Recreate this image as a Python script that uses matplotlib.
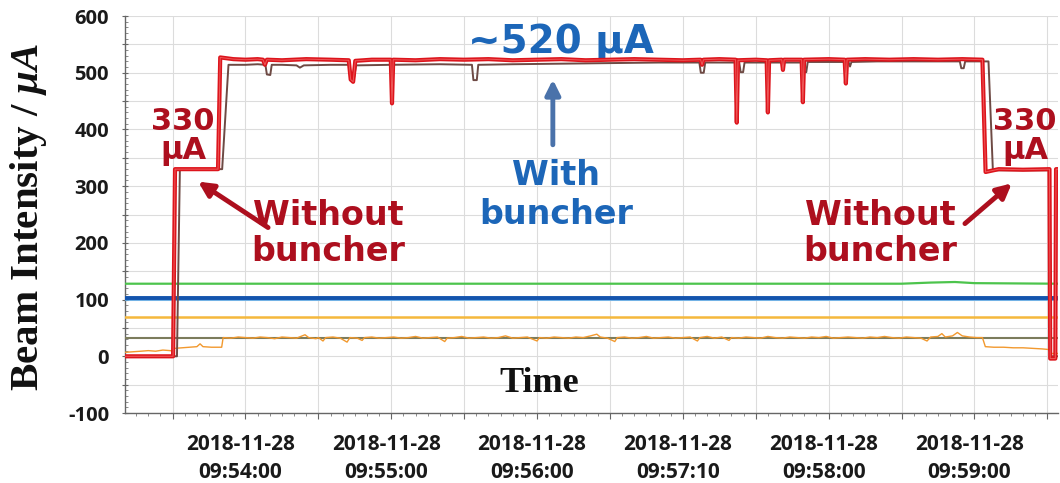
import numpy as np
import matplotlib.pyplot as plt
from matplotlib.ticker import MultipleLocator, FixedLocator
from matplotlib.transforms import ScaledTranslation

plt.rcParams['mathtext.fontset'] = 'custom'
plt.rcParams['mathtext.it'] = 'Liberation Serif:italic:bold'
plt.rcParams['mathtext.rm'] = 'Liberation Serif:bold'

# time axis in seconds, 0 = 09:54:00
tick_pos = [-30, 0, 30, 60, 90, 120, 150, 180, 210, 240, 270, 300, 330]
tick_text = ['', '2018-11-28\n09:54:00', '', '2018-11-28\n09:55:00', '',
             '2018-11-28\n09:56:00', '', '2018-11-28\n09:57:10', '',
             '2018-11-28\n09:58:00', '', '2018-11-28\n09:59:00', '']

# beam current with buncher (red)
red_t = [-49.6, -29.8, -29.0, -11.3, -10.4, -5, 0, 5, 7.2, 8.0, 8.8, 15, 25, 35,
         42.5, 43.3, 44.3, 45.2, 52, 59.8, 60.3, 60.8, 70, 80, 90, 100, 110, 120,
         130, 140, 150, 160, 170, 180, 187.3, 187.9, 188.5, 195, 201.7, 202.2,
         202.7, 210, 214.5, 215.0, 215.5, 220.7, 221.2, 221.7, 228.9, 229.4,
         229.9, 240, 246.6, 247.1, 247.6, 255, 265, 275, 285, 295, 303.3, 304.6,
         310, 320, 330.9, 331.2, 333.3, 333.6, 336]
red_v = [0, 0, 330, 330, 527, 524, 523, 524, 523, 514, 523, 522, 524, 523,
         522, 488, 484, 521, 523, 523, 446, 523, 522, 524, 523, 524, 522, 523,
         524, 522, 523, 524, 523, 522, 523, 514, 523, 524, 523, 412,
         522, 523, 522, 430, 522, 523, 505, 523, 523, 448,
         523, 524, 523, 481, 523, 524, 523, 524, 523, 524, 523, 325,
         330, 329, 330, -4, -4, 330, 330]

# previous run (dark trace)
gray_t = [-49.6, -28.2, -27.0, -9.6, -7.0, 0, 5, 8.2, 8.8, 10.2, 10.8, 15, 21,
          22.4, 24, 35, 42.8, 43.5, 44.6, 45.5, 60, 80, 93.2, 93.8, 95.2, 95.8,
          110, 130, 150, 170, 186.8, 187.4, 188.6, 189.2, 195, 203.2, 203.8,
          204.8, 205.4, 215, 229.2, 229.8, 230.8, 231.4, 240, 248.2, 248.8,
          249.4, 260, 280, 294.0, 294.6, 295.6, 296.2, 305.8, 307.6, 320, 330.9,
          331.5, 336]
gray_v = [0, 0, 330, 330, 514, 514, 515, 514, 497, 496, 514, 514, 513,
          509, 513, 514, 514, 490, 489, 513, 514, 515, 514, 487, 487, 514,
          515, 516, 517, 518, 518, 500, 500, 518, 518, 518, 501,
          501, 518, 518, 518, 501, 501, 519, 519, 519, 511,
          519, 520, 520, 520, 508, 508, 520, 520, 328, 328, 328,
          0, 0]

# low-level channels
orange_t = [-49.6, -46, -43, -40, -37, -34, -31, -29.8, -29.2, -26, -23, -20,
            -18.7, -17.5, -14, -11, -9.8, -9.2, -6, -3, 0, 3, 6, 9, 12, 15, 18,
            21, 24.5, 26, 29, 30, 31.9, 33, 36, 39, 41.8, 43, 46, 48, 49, 52, 55,
            58, 61, 64, 67, 70, 73, 76, 79, 82, 83, 86, 89, 92, 95, 98, 101, 104,
            107, 110, 113, 116, 120, 121, 124, 127, 130, 133, 136, 139, 142,
            144.6, 146, 149, 152, 153, 156, 159, 162, 165, 168, 171, 174, 177,
            180, 183, 186, 187, 190, 193, 196, 199, 200, 203, 206, 209, 212, 215,
            218, 221, 224, 227, 230, 233, 236, 239, 242, 245, 248, 251, 254, 257,
            260, 263, 266, 269, 272, 275, 278, 280.5, 282, 285, 286.6, 288, 291,
            293, 295, 298, 301, 303.3, 304.5, 308, 312, 316, 320, 324, 328,
            330.5, 331.5, 334.4]
orange_v = [7, 8, 9, 10, 9, 11, 10, 9, 14, 15, 16, 17,
            22, 17, 16, 16, 16, 33, 32, 34, 33, 32, 34, 33, 31, 34, 33,
            32, 38, 33, 31, 33, 27, 33, 34, 32, 25, 33, 32, 28, 33, 34, 32,
            33, 34, 32, 33, 35, 32, 33, 34, 26, 32, 33, 35, 32, 33, 34, 32, 33,
            36, 32, 33, 34, 27, 33, 32, 34, 33, 32, 34, 33, 36,
            39, 34, 32, 26, 33, 34, 32, 33, 35, 32, 33, 34, 32,
            33, 34, 27, 33, 35, 32, 34, 28, 33, 32, 34, 33, 32, 35,
            33, 32, 34, 33, 32, 34, 33, 35, 32, 33, 34, 33, 32, 34,
            33, 35, 33, 32, 34, 33, 32, 27, 34, 35, 40, 34, 36,
            42, 36, 34, 33, 33, 17, 16, 16, 15, 15, 14, 13,
            12, 5, 5]
green_t = [-49.6, 270, 282, 292, 300, 334.4]
green_v = [128, 128, 130, 131, 129, 128]
blue_level = 103
blue_low = 100.5
yellow_level = 70
olive_level = 32.5

fig = plt.figure(figsize=(10.6, 4.83), dpi=100)
ax = fig.add_axes([0.1179, 0.1449, 0.8802, 0.8219])

ax.plot(green_t, green_v, color='#4cc44c', lw=1.6, zorder=3)
ax.axhline(blue_low, color='#5aa8e8', lw=2.6, zorder=3)
ax.axhline(blue_level, color='#1454ad', lw=2.8, zorder=3)
ax.axhline(yellow_level, color='#f5b83c', lw=1.8, zorder=3)
ax.axhline(olive_level, color='#7c7c5c', lw=1.5, zorder=3)
ax.plot(orange_t, orange_v, color='#f2992e', lw=1.0, zorder=4)
ax.plot(gray_t, gray_v, color='#6e4a44', lw=1.4, zorder=5)
ax.plot(red_t, red_v, color='#dd141c', lw=3.0, zorder=6)
ax.plot(red_t, red_v, color='#ee5a5a', lw=0.7, zorder=7)

ax.set_xlim(-49.6, 334.4)
ax.set_ylim(-100, 600)
ax.xaxis.set_major_locator(FixedLocator(tick_pos))
ax.set_xticklabels(tick_text)
ax.xaxis.set_minor_locator(MultipleLocator(5))
ax.yaxis.set_minor_locator(MultipleLocator(10))
ax.set_yticks(np.arange(-100, 601, 50))
ax.set_yticklabels(['-100', '', '0', '', '100', '', '200', '', '300', '',
                    '400', '', '500', '', '600'])
ax.grid(True, which='major', color='#dcdcdc', lw=0.8)
ax.set_axisbelow(True)

for side in ['top', 'right']:
    ax.spines[side].set_visible(False)
for side in ['left', 'bottom']:
    ax.spines[side].set_color('#666666')
    ax.spines[side].set_linewidth(1.0)

ax.tick_params(axis='y', which='major', direction='inout', length=5,
               color='#666666', pad=9)
ax.tick_params(axis='y', which='minor', direction='in', length=2.5,
               color='#777777')
ax.tick_params(axis='x', which='major', direction='out', length=4,
               color='#666666', pad=11)
ax.tick_params(axis='x', which='minor', direction='out', length=2.5,
               color='#777777')

for lbl in ax.get_xticklabels():
    lbl.set_fontfamily('Open Sans')
    lbl.set_fontweight('bold')
    lbl.set_fontsize(15)
    lbl.set_color('#1a1a1a')
    lbl.set_linespacing(1.42)
    lbl.set_transform(lbl.get_transform() +
                      ScaledTranslation(-0.05, 0, fig.dpi_scale_trans))
for lbl in ax.get_yticklabels():
    lbl.set_fontfamily('Open Sans')
    lbl.set_fontweight('bold')
    lbl.set_fontsize(14.5)
    lbl.set_color('#1a1a1a')

fig.text(0.027, 0.55, r'Beam Intensity / $\mu A$', rotation=90,
         family='Liberation Serif', weight='bold', fontsize=29.5,
         ha='center', va='center', color='#111111')
ax.text(121, -48, 'Time', family='Liberation Serif', weight='bold',
        fontsize=26, ha='center', va='center', color='#111111')

dark_red = '#ad0f1e'
blue_txt = '#1c66b8'
word = dict(family='DejaVu Sans', weight='bold', ha='center', va='center')

ax.text(-25.7, 387, '330\nμA', color=dark_red, fontsize=22, linespacing=1.0,
        **word)
ax.text(320.8, 387, '330\nμA', color=dark_red, fontsize=22, linespacing=1.0,
        **word)
ax.text(33.9, 216, 'Without\nbuncher', color=dark_red, fontsize=24,
        linespacing=1.12, **word)
ax.text(261.1, 216, 'Without\nbuncher', color=dark_red, fontsize=24,
        linespacing=1.12, **word)
ax.text(129.8, 555, '~520 μA', color=blue_txt, fontsize=28, **word)
ax.text(127.8, 285, 'With\nbuncher', color=blue_txt, fontsize=24,
        linespacing=1.22, **word)

ax.annotate('', xy=(-19.5, 308), xytext=(9.3, 227),
            arrowprops=dict(arrowstyle='-|>', color=dark_red, lw=3.5,
                            mutation_scale=22, shrinkA=0, shrinkB=0))
ax.annotate('', xy=(315.4, 305), xytext=(296.1, 234),
            arrowprops=dict(arrowstyle='-|>', color=dark_red, lw=3.5,
                            mutation_scale=22, shrinkA=0, shrinkB=0))
ax.annotate('', xy=(126.5, 488), xytext=(126.5, 373),
            arrowprops=dict(arrowstyle='-|>', color='#4a72aa', lw=3.5,
                            mutation_scale=22, shrinkA=0, shrinkB=0))

fig.savefig('out.png', dpi=100)
